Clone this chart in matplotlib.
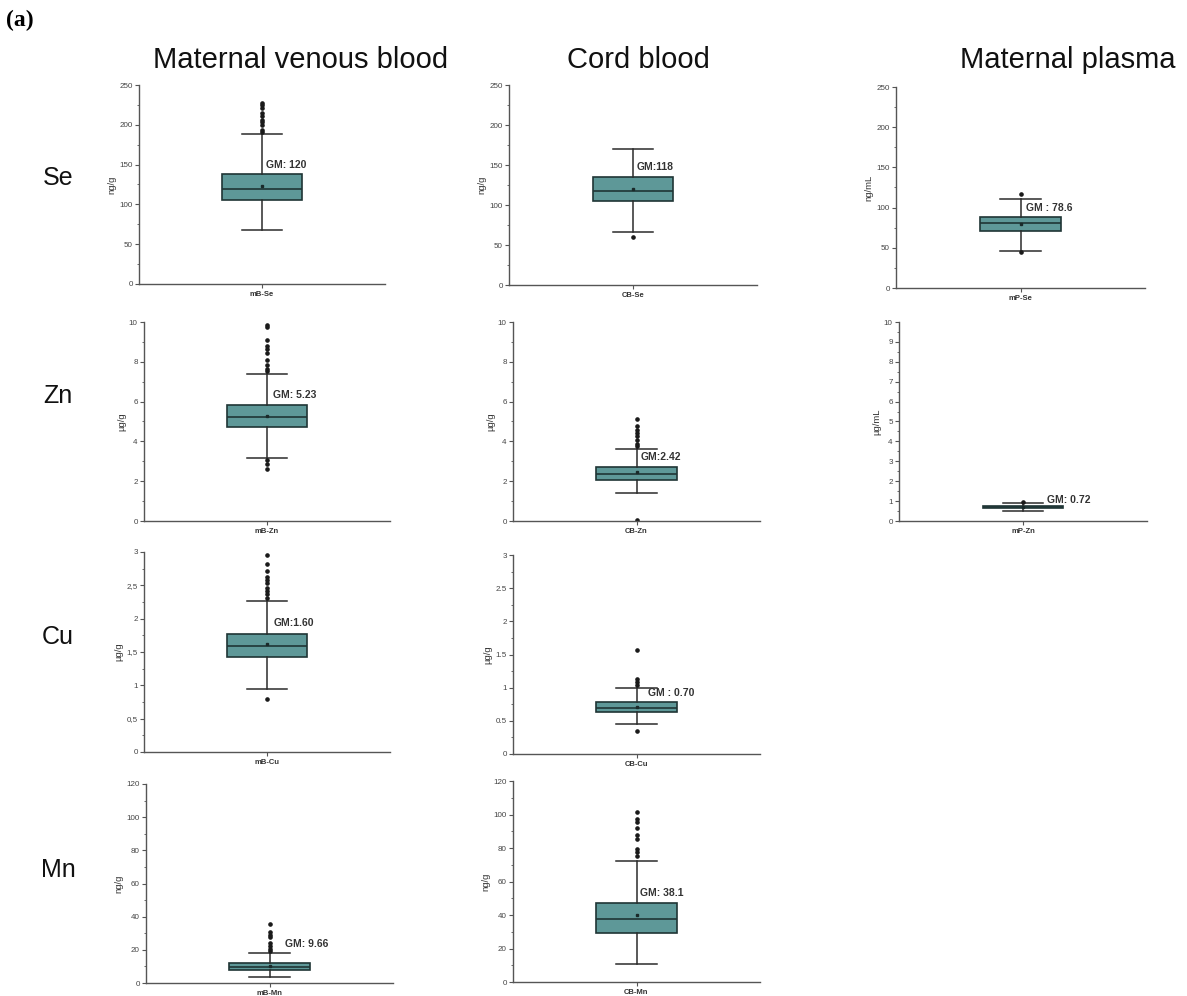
import numpy as np
import matplotlib.pyplot as plt
from matplotlib.ticker import MultipleLocator, FuncFormatter

plt.rcParams['font.family'] = ['Liberation Sans', 'DejaVu Sans']

# --- data (one entry per panel) ---
labels = ['mB-Se', 'CB-Se', 'mP-Se', 'mB-Zn', 'CB-Zn', 'mP-Zn',
          'mB-Cu', 'CB-Cu', 'mB-Mn', 'CB-Mn']
units = ['ng/g', 'ng/g', 'ng/mL', 'µg/g', 'µg/g', 'µg/mL',
         'µg/g', 'µg/g', 'ng/g', 'ng/g']
q1 = [105.5, 105.2, 71.5, 4.71, 2.08, 0.63, 1.43, 0.63, 7.6, 29.3]
med = [119.5, 118.1, 80.3, 5.21, 2.35, 0.70, 1.595, 0.70, 9.6, 37.6]
q3 = [138.0, 134.8, 88.6, 5.81, 2.70, 0.76, 1.775, 0.78, 12.0, 47.4]
whislo = [67.5, 66.6, 46.6, 3.15, 1.39, 0.49, 0.94, 0.45, 3.6, 10.9]
whishi = [189.0, 170.0, 110.6, 7.37, 3.62, 0.92, 2.27, 1.00, 18.1, 72.4]
means = [123.0, 120.2, 79.5, 5.29, 2.45, 0.72, 1.625, 0.71, 10.0, 40.0]
gm_text = ['GM: 120', 'GM:118', 'GM : 78.6', 'GM: 5.23', 'GM:2.42',
           'GM: 0.72', 'GM:1.60', 'GM : 0.70', 'GM: 9.66', 'GM: 38.1']
gm_y = [143, 141, 93, 6.08, 2.96, 0.8, 1.86, 0.84, 20.5, 50]
fliers = [
    [191.5, 194, 200, 203, 206, 211.5, 215, 221, 225, 228],
    [59.5],
    [116.9, 44.9],
    [7.52, 7.65, 7.82, 8.07, 8.46, 8.66, 8.79, 9.08, 9.75, 9.83, 3.05, 2.85, 2.61],
    [3.75, 3.89, 4.05, 4.25, 4.42, 4.59, 4.76, 5.13, 0.03],
    [0.96],
    [2.31, 2.37, 2.42, 2.46, 2.535, 2.585, 2.625, 2.71, 2.825, 2.96, 0.795],
    [1.04, 1.09, 1.13, 1.57, 0.34],
    [19.1, 20.7, 22.5, 24.1, 27.5, 29.1, 30.7, 35.5],
    [75.2, 77.6, 79.2, 85.6, 87.6, 92.1, 95.5, 97.1, 101.5],
]
ytop = [250, 250, 250, 10, 10, 10, 3, 3, 120, 120]
ystep = [50, 50, 50, 2, 2, 1, 0.5, 0.5, 20, 20]

# --- layout in pixels: left, right, top, bottom of each axes ---
W, H = 1187, 996
boxes_px = [(139, 385, 85, 284), (509, 757, 85, 285), (896, 1145, 87, 288),
            (144, 390, 322, 521), (513, 760, 322, 521), (899, 1147, 322, 521),
            (144, 390, 552, 752), (513, 760, 555, 754),
            (146, 393, 784, 983), (513, 760, 781, 982)]
gm_dx = [0.03, 0.03, 0.045, 0.05, 0.03, 0.19, 0.05, 0.09, 0.125, 0.03]

teal = '#5e9898'
dark = '#1f3535'
grey = '#555555'

fig = plt.figure(figsize=(W / 100, H / 100), dpi=100)

for i, lab in enumerate(labels):
    l, r, t, b = boxes_px[i]
    ax = fig.add_axes([l / W, 1 - b / H, (r - l) / W, (b - t) / H])
    stats = [dict(med=med[i], q1=q1[i], q3=q3[i], whislo=whislo[i],
                  whishi=whishi[i], mean=means[i], fliers=fliers[i], label=lab)]
    ax.bxp(stats, positions=[1], widths=0.65, capwidths=0.33,
           showmeans=True, patch_artist=True,
           boxprops=dict(facecolor=teal, edgecolor=dark, linewidth=1.2),
           medianprops=dict(color=dark, linewidth=1.2),
           whiskerprops=dict(color='#2b2b2b', linewidth=1.1),
           capprops=dict(color='#2b2b2b', linewidth=1.1),
           flierprops=dict(marker='o', markersize=2.3, markerfacecolor='#1a1a1a',
                           markeredgecolor='#1a1a1a'),
           meanprops=dict(marker='s', markersize=1.8, markerfacecolor='#1a2a2a',
                          markeredgecolor='#1a2a2a'))
    ax.set_xlim(0, 2)
    ax.set_ylim(0, ytop[i])
    ax.set_xticks([1])
    ax.set_xticklabels([lab], fontsize=5.5, color='#333333', fontweight='bold')
    ax.yaxis.set_major_locator(MultipleLocator(ystep[i]))
    ax.yaxis.set_minor_locator(MultipleLocator(ystep[i] / 2))
    if lab == 'mB-Cu':
        ax.yaxis.set_major_formatter(FuncFormatter(lambda v, p: f'{v:g}'.replace('.', ',')))
    else:
        ax.yaxis.set_major_formatter(FuncFormatter(lambda v, p: f'{v:g}'))
    ax.tick_params(axis='y', which='major', labelsize=5.8, labelcolor='#444444',
                   length=3, width=0.8, color=grey, pad=1.5)
    ax.tick_params(axis='y', which='minor', length=1.8, width=0.6, color=grey)
    ax.tick_params(axis='x', length=3, width=0.8, color=grey, pad=2)
    for s in ['top', 'right']:
        ax.spines[s].set_visible(False)
    for s in ['left', 'bottom']:
        ax.spines[s].set_color(grey)
        ax.spines[s].set_linewidth(1.0)
    ax.set_ylabel(units[i], fontsize=6.8, color='#333333', labelpad=2)
    ax.text(1 + gm_dx[i], gm_y[i], gm_text[i], fontsize=7.5, fontweight='bold',
            color='#333333', va='bottom', ha='left')

# column and row titles
cols = ['Maternal venous blood', 'Cord blood', 'Maternal plasma']
col_x = [301, 638, 1068]
for txt, x in zip(cols, col_x):
    fig.text(x / W, 1 - 60 / H, txt, fontsize=21, ha='center', va='center', color='#111111')

rows = ['Se', 'Zn', 'Cu', 'Mn']
row_y = [178, 396, 637, 870]
for txt, y in zip(rows, row_y):
    fig.text(58 / W, 1 - y / H, txt, fontsize=18, ha='center', va='center', color='#111111')

fig.text(6 / W, 1 - 20 / H, '(a)', fontsize=17, fontweight='bold',
         family=['Liberation Serif', 'DejaVu Serif'], ha='left', va='center')

fig.savefig('out.png', dpi=100, facecolor='white')
